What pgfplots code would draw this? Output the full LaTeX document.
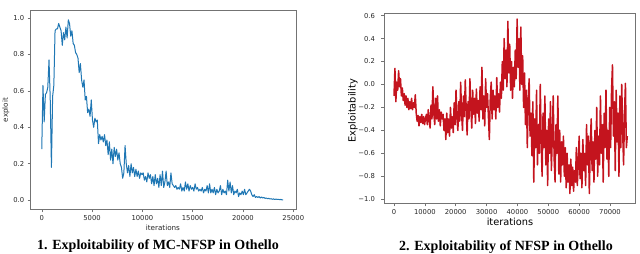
\documentclass[border=0pt]{standalone}
\usepackage{pgfplots}
\pgfplotsset{compat=1.18}
\usepackage{fontspec}
\setmainfont{Liberation Serif}
\newfontfamily\dejavu{DejaVu Sans}
\definecolor{mplblue}{HTML}{1F77B4}
\definecolor{nfspred}{RGB}{196,20,30}
\definecolor{framegray}{gray}{0.45}
\definecolor{labgray}{gray}{0.15}
\begin{document}
\begin{tikzpicture}
\path[use as bounding box] (0pt,0pt) rectangle (640pt,254pt);
% ---------------- left plot ----------------
\begin{axis}[
  at={(30.7pt,44.7pt)}, anchor=south west, scale only axis,
  width=266pt, height=198.6pt,
  xmin=-1100, xmax=25340, ymin=-0.05, ymax=1.04,
  scaled x ticks=false, scaled y ticks=false,
  axis line style={framegray, line width=0.6pt},
  tick style={framegray, line width=0.5pt},
  tick align=outside, major tick length=3pt,
  xtick={0,5000,10000,15000,20000,25000},
  xticklabels={0,5000,10000,15000,20000,25000},
  ytick={0,0.2,0.4,0.6,0.8,1.0},
  yticklabels={0.0,0.2,0.4,0.6,0.8,1.0},
  xtick pos=bottom, ytick pos=left,
  tick label style={font=\dejavu\fontsize{6.8}{7}\selectfont, text=labgray},
  xlabel={iterations}, ylabel={exploit},
  label style={font=\dejavu\fontsize{7.2}{8}\selectfont, text=labgray},
  xlabel style={at={(axis description cs:0.497,-0.094)}, anchor=center},
  ylabel style={at={(axis description cs:-0.093,0.5)}, anchor=center},
]
\addplot[mplblue, line width=1pt, line join=round] coordinates {
(0,0.28)(120,0.63)(240,0.43)(360,0.58)(480,0.59)(600,0.62)(720,0.77)(840,0.56)(960,0.18)(1080,0.57)
(1200,0.63)(1320,0.93)(1440,0.94)(1560,0.94)(1680,0.97)(1800,0.95)(1920,0.93)(2040,0.85)(2160,0.92)(2280,0.88)
(2400,0.95)(2520,0.89)(2640,0.99)(2760,0.97)(2880,0.90)(3000,0.93)(3120,0.86)(3240,0.85)(3360,0.81)(3480,0.80)
(3600,0.78)(3720,0.70)(3840,0.75)(3960,0.66)(4080,0.62)(4200,0.66)(4320,0.55)(4440,0.57)(4560,0.48)(4680,0.50)
(4800,0.46)(4920,0.55)(5040,0.44)(5160,0.40)(5280,0.45)(5400,0.43)(5520,0.44)(5640,0.31)(5760,0.36)(5880,0.33)
(6000,0.35)(6120,0.32)(6240,0.36)(6360,0.30)(6480,0.33)(6600,0.25)(6720,0.32)(6840,0.22)(6960,0.28)(7080,0.20)
(7200,0.29)(7320,0.24)(7440,0.28)(7560,0.22)(7680,0.26)(7800,0.20)(7920,0.18)(8040,0.12)(8160,0.15)(8280,0.30)
(8400,0.20)(8520,0.15)(8640,0.19)(8760,0.13)(8880,0.20)(9000,0.15)(9120,0.18)(9240,0.13)(9360,0.17)(9480,0.13)
(9600,0.16)(9720,0.12)(9840,0.15)(9960,0.14)(10080,0.15)(10200,0.11)(10320,0.13)(10440,0.10)(10560,0.15)(10680,0.12)
(10800,0.14)(10920,0.09)(11040,0.13)(11160,0.08)(11280,0.14)(11400,0.09)(11520,0.12)(11640,0.07)(11760,0.14)(11880,0.08)
(12000,0.16)(12120,0.07)(12240,0.10)(12360,0.16)(12480,0.08)(12600,0.10)(12720,0.07)(12840,0.15)(12960,0.09)(13080,0.08)
(13200,0.07)(13320,0.08)(13440,0.06)(13560,0.07)(13680,0.06)(13800,0.09)(13920,0.05)(14040,0.07)(14160,0.05)(14280,0.10)
(14400,0.06)(14520,0.09)(14640,0.05)(14760,0.08)(14880,0.06)(15000,0.07)(15120,0.05)(15240,0.09)(15360,0.06)(15480,0.07)
(15600,0.05)(15720,0.06)(15840,0.05)(15960,0.07)(16080,0.04)(16200,0.06)(16320,0.05)(16440,0.08)(16560,0.04)(16680,0.09)
(16800,0.04)(16920,0.06)(17040,0.04)(17160,0.07)(17280,0.03)(17400,0.06)(17520,0.04)(17640,0.05)(17760,0.08)(17880,0.03)
(18000,0.06)(18120,0.04)(18240,0.05)(18360,0.03)(18480,0.11)(18600,0.05)(18720,0.10)(18840,0.04)(18960,0.08)(19080,0.03)
(19200,0.05)(19320,0.04)(19440,0.06)(19560,0.02)(19680,0.04)(19800,0.03)(19920,0.05)(20040,0.03)(20160,0.06)(20280,0.03)
(20400,0.04)(20520,0.05)(20640,0.06)(20760,0.05)(20880,0.03)(21000,0.02)(21120,0.03)(21240,0.015)(21360,0.02)(21480,0.015)
(21600,0.02)(21720,0.012)(21840,0.018)(21960,0.012)(22080,0.015)(22200,0.01)(22320,0.012)(22440,0.008)(22560,0.01)(22680,0.007)
(22800,0.008)(22920,0.005)(23040,0.007)(23160,0.004)(23280,0.006)(23400,0.004)(23520,0.005)(23640,0.003)(23760,0.004)(23880,0.002)
(24000,0.002)
};
\end{axis}
% ---------------- right plot ----------------
\begin{axis}[
  at={(384pt,50.7pt)}, anchor=south west, scale only axis,
  width=251pt, height=190pt,
  xmin=-3240, xmax=78100, ymin=-1.035, ymax=0.62,
  scaled x ticks=false, scaled y ticks=false,
  axis line style={framegray, line width=0.6pt},
  tick style={framegray, line width=0.5pt},
  tick align=outside, major tick length=3pt,
  xtick={0,10000,20000,30000,40000,50000,60000,70000},
  xticklabels={0,10000,20000,30000,40000,50000,60000,70000},
  ytick={-1.0,-0.8,-0.6,-0.4,-0.2,0,0.2,0.4,0.6},
  yticklabels={−1.0,−0.8,−0.6,−0.4,−0.2,0.0,0.2,0.4,0.6},
  xtick pos=bottom, ytick pos=left,
  tick label style={font=\dejavu\fontsize{6.8}{7}\selectfont, text=labgray},
  yticklabel style={xshift=-2.5pt},
  xlabel={iterations}, ylabel={Exploitability},
  label style={font=\dejavu\fontsize{9.8}{11}\selectfont, text=black},
  xlabel style={at={(axis description cs:0.502,-0.098)}, anchor=center},
  ylabel style={at={(axis description cs:-0.1235,0.487)}, anchor=center},
]
\addplot[nfspred, line width=1.5pt, line join=round] coordinates {
(0,-0.10)(300,0.14)(600,-0.15)(900,0.02)(1200,-0.05)(1500,0.12)(1800,-0.02)(2100,0.05)(2400,-0.10)(2700,-0.03)
(3000,-0.14)(3300,-0.08)(3600,-0.18)(3900,-0.10)(4200,-0.20)(4500,-0.12)(4800,-0.22)(5100,-0.15)(5400,-0.21)(5700,-0.12)
(6000,-0.22)(6300,-0.16)(6600,-0.20)(6900,-0.09)(7200,-0.25)(7500,-0.32)(7800,-0.27)(8100,-0.36)(8400,-0.28)(8700,-0.33)
(9000,-0.26)(9300,-0.34)(9600,-0.28)(9900,-0.35)(10200,-0.30)(10500,-0.26)(10800,-0.35)(11100,-0.22)(11400,-0.31)(11700,-0.38)
(12000,-0.18)(12300,-0.30)(12600,-0.02)(12900,-0.25)(13200,-0.35)(13500,-0.12)(13800,-0.30)(14100,-0.10)(14400,-0.32)(14700,-0.22)
(15000,-0.36)(15300,-0.24)(15600,-0.30)(15900,-0.26)(16200,-0.40)(16500,-0.30)(16800,-0.48)(17100,-0.25)(17400,-0.42)(17700,-0.30)
(18000,-0.45)(18300,-0.20)(18600,-0.38)(18900,-0.28)(19200,-0.42)(19500,-0.16)(19800,-0.35)(20100,-0.05)(20400,-0.30)(20700,-0.40)
(21000,-0.15)(21300,-0.32)(21600,0.02)(21900,-0.25)(22200,-0.40)(22500,-0.10)(22800,-0.28)(23100,0.04)(23400,-0.22)(23700,-0.44)
(24000,-0.15)(24300,-0.30)(24600,0.05)(24900,-0.20)(25200,-0.38)(25500,-0.05)(25800,-0.26)(26100,-0.12)(26400,-0.34)(26700,-0.04)
(27000,-0.25)(27300,-0.14)(27600,-0.32)(27900,-0.02)(28200,-0.22)(28500,0.15)(28800,-0.30)(29100,-0.10)(29400,-0.36)(29700,0.05)
(30000,-0.20)(30300,-0.08)(30600,-0.28)(30900,-0.48)(31200,-0.12)(31500,0.02)(31800,-0.30)(32100,-0.05)(32400,-0.22)(32700,-0.10)
(33000,-0.30)(33300,0.06)(33600,-0.20)(33900,-0.08)(34200,-0.24)(34500,0.02)(34800,-0.12)(35100,0.20)(35400,-0.05)(35700,0.40)
(36000,0.05)(36300,0.30)(36600,-0.02)(36900,0.55)(37200,0.10)(37500,0.35)(37800,-0.05)(38100,0.20)(38400,-0.12)(38700,0.15)
(39000,-0.02)(39300,0.30)(39600,0.05)(39900,0.57)(40200,0.15)(40500,0.40)(40800,-0.05)(41100,0.50)(41400,0.00)(41700,0.25)
(42000,-0.20)(42300,0.10)(42600,-0.35)(42900,-0.05)(43200,-0.55)(43500,-0.15)(43800,0.05)(44100,-0.45)(44400,-0.25)(44700,-0.62)
(45000,-0.15)(45300,-0.85)(45600,-0.30)(45900,-0.55)(46200,-0.05)(46500,-0.70)(46800,-0.35)(47100,-0.60)(47400,0.00)(47700,-0.50)
(48000,-0.80)(48300,-0.25)(48600,-0.55)(48900,-0.10)(49200,-0.70)(49500,-0.40)(49800,-0.88)(50100,-0.30)(50400,-0.60)(50700,-0.15)
(51000,-0.75)(51300,-0.45)(51600,-0.10)(51900,-0.65)(52200,-0.85)(52500,-0.35)(52800,-0.60)(53100,-0.10)(53400,-0.78)(53700,-0.40)
(54000,-0.85)(54300,-0.50)(54600,-0.70)(54900,-0.45)(55200,-0.80)(55500,-0.55)(55800,-0.90)(56100,-0.60)(56400,-0.85)(56700,-0.70)
(57000,-0.95)(57300,-0.65)(57600,-0.88)(57900,-0.72)(58200,-0.93)(58500,-0.75)(58800,-0.85)(59100,-0.55)(59400,-0.88)(59700,-0.70)
(60000,-0.45)(60300,-0.82)(60600,-0.60)(60900,-0.90)(61200,-0.48)(61500,-0.75)(61800,-0.60)(62100,-0.88)(62400,-0.35)(62700,-0.70)
(63000,-0.45)(63300,-0.95)(63600,-0.55)(63900,-0.30)(64200,-0.75)(64500,-0.50)(64800,-0.85)(65100,-0.40)(65400,-0.65)(65700,-0.20)
(66000,-0.80)(66300,-0.45)(66600,-0.70)(66900,-0.10)(67200,-0.60)(67500,-0.35)(67800,-0.85)(68100,-0.25)(68400,-0.55)(68700,-0.05)
(69000,-0.65)(69300,-0.40)(69600,-0.80)(69900,-0.20)(70200,-0.55)(70500,-0.05)(70800,0.17)(71100,-0.45)(71400,-0.15)(71700,-0.75)
(72000,-0.05)(72300,-0.50)(72600,-0.25)(72900,-0.80)(73200,-0.10)(73500,-0.55)(73800,0.00)(74100,-0.40)(74400,-0.70)(74700,-0.25)
(75000,0.01)(75300,-0.55)(75600,-0.45)
};
\end{axis}
% ---------------- captions ----------------
\node[anchor=base, font=\bfseries\fontsize{14}{16}\selectfont] at (158pt,4.7pt) {1. Exploitability of MC-NFSP in Othello};
\node[anchor=base, font=\bfseries\fontsize{14}{16}\selectfont] at (506pt,3.3pt) {2. Exploitability of NFSP in Othello};
\end{tikzpicture}
\end{document}
